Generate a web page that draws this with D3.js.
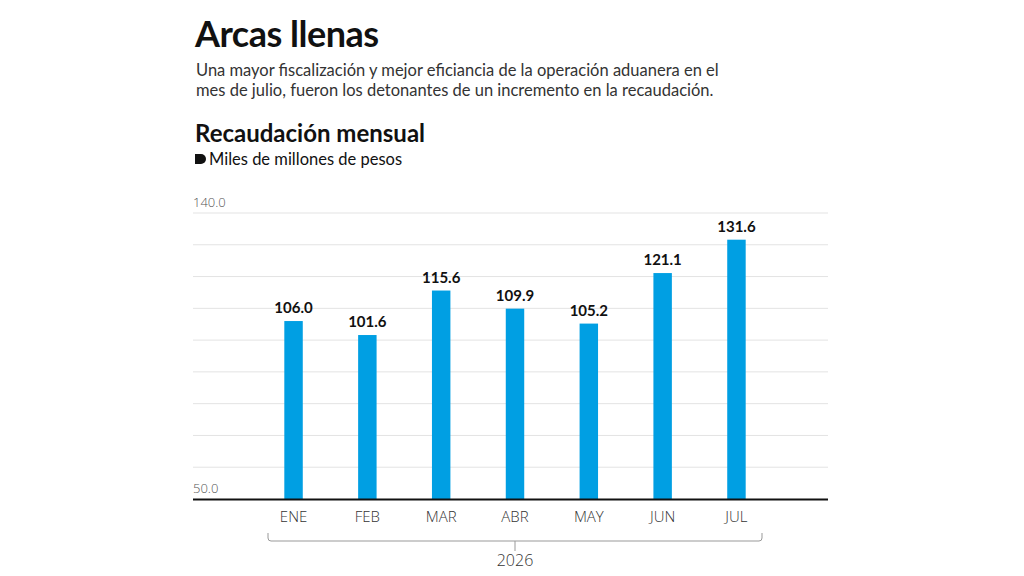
<!DOCTYPE html>
<html><head><meta charset="utf-8">
<script src="https://cdn.jsdelivr.net/npm/d3@7"></script>
<style>
body{margin:0;background:#fff;}
svg{display:block;font-family:"Lato","Noto Sans",sans-serif;}
</style></head>
<body><svg id="chart" width="1024" height="576"></svg>
<script>
var months = ["ENE","FEB","MAR","ABR","MAY","JUN","JUL"];
var values = [106.0,101.6,115.6,109.9,105.2,121.1,131.6];
var yTicks = [50,60,70,80,90,100,110,120,130,140];
var yearLabel = "2026";

var svg = d3.select("#chart");

svg.append("text").attr("x",195).attr("y",47).attr("font-size",36).attr("font-weight",700)
  .attr("fill","#111").attr("letter-spacing","-0.5").text("Arcas llenas");
svg.append("text").attr("x",196).attr("y",76).attr("font-size",16.5).attr("fill","#333")
  .text("Una mayor fiscalización y mejor eficiancia de la operación aduanera en el");
svg.append("text").attr("x",196).attr("y",96).attr("font-size",16.5).attr("fill","#333")
  .text("mes de julio, fueron los detonantes de un incremento en la recaudación.");
svg.append("text").attr("x",195).attr("y",142).attr("font-size",24).attr("font-weight",700)
  .attr("fill","#111").text("Recaudación mensual");
svg.append("path").attr("d","M195,154 h6 a5,5 0 0 1 0,10 h-6 z").attr("fill","#111");
svg.append("text").attr("x",209).attr("y",165).attr("font-size",16.5).attr("fill","#111")
  .text("Miles de millones de pesos");

var left = 193, right = 828;
var y = d3.scaleLinear().domain([50,140]).range([499,213]);
var x = d3.scaleBand().domain(months).range([257,773]).paddingInner(0.75).paddingOuter(0.37);

var g = svg.append("g");
g.selectAll(".grid").data(yTicks.slice(1)).enter().append("line")
  .attr("x1",left).attr("x2",right).attr("y1",function(d){return y(d);}).attr("y2",function(d){return y(d);})
  .attr("stroke","#e3e3e3").attr("stroke-width",1);
g.selectAll(".yl").data([140,50]).enter().append("text")
  .attr("x",left).attr("y",function(d){return y(d)-6;})
  .attr("font-size",13).attr("fill","#555").attr("font-family","Open Sans").attr("font-weight",300)
  .text(function(d){return d3.format(".1f")(d);});

g.selectAll(".bar").data(values).enter().append("rect")
  .attr("x",function(d,i){return x(months[i]);}).attr("width",x.bandwidth())
  .attr("y",function(d){return y(d);}).attr("height",function(d){return y(50)-y(d);})
  .attr("fill","#009fe3");
g.selectAll(".val").data(values).enter().append("text")
  .attr("x",function(d,i){return x(months[i])+x.bandwidth()/2;}).attr("y",function(d){return y(d)-8;})
  .attr("text-anchor","middle").attr("font-size",15).attr("font-weight",700).attr("fill","#111")
  .text(function(d){return d3.format(".1f")(d);});

g.append("line").attr("x1",left).attr("x2",right).attr("y1",499.5).attr("y2",499.5)
  .attr("stroke","#111").attr("stroke-width",2);

var xAxis = g.append("g").attr("transform","translate(0,499)")
  .call(d3.axisBottom(x).tickSize(0).tickPadding(12));
xAxis.select(".domain").remove();
xAxis.selectAll("text").attr("font-size",15).attr("fill","#333")
  .attr("font-family","Open Sans").attr("font-weight",300);

var bx0 = 268, bx1 = 762, by = 541, mid = (bx0+bx1)/2;
g.append("path").attr("d","M"+bx0+","+(by-8)+" v5 q0,3 3,3 H"+(bx1-3)+" q3,0 3,-3 v-5 M"+mid+","+by+" v10")
  .attr("fill","none").attr("stroke","#999").attr("stroke-width",1);
g.append("text").attr("x",mid).attr("y",566).attr("text-anchor","middle").attr("font-size",16)
  .attr("fill","#333").attr("font-family","Open Sans").attr("font-weight",300).text(yearLabel);
</script></body></html>
